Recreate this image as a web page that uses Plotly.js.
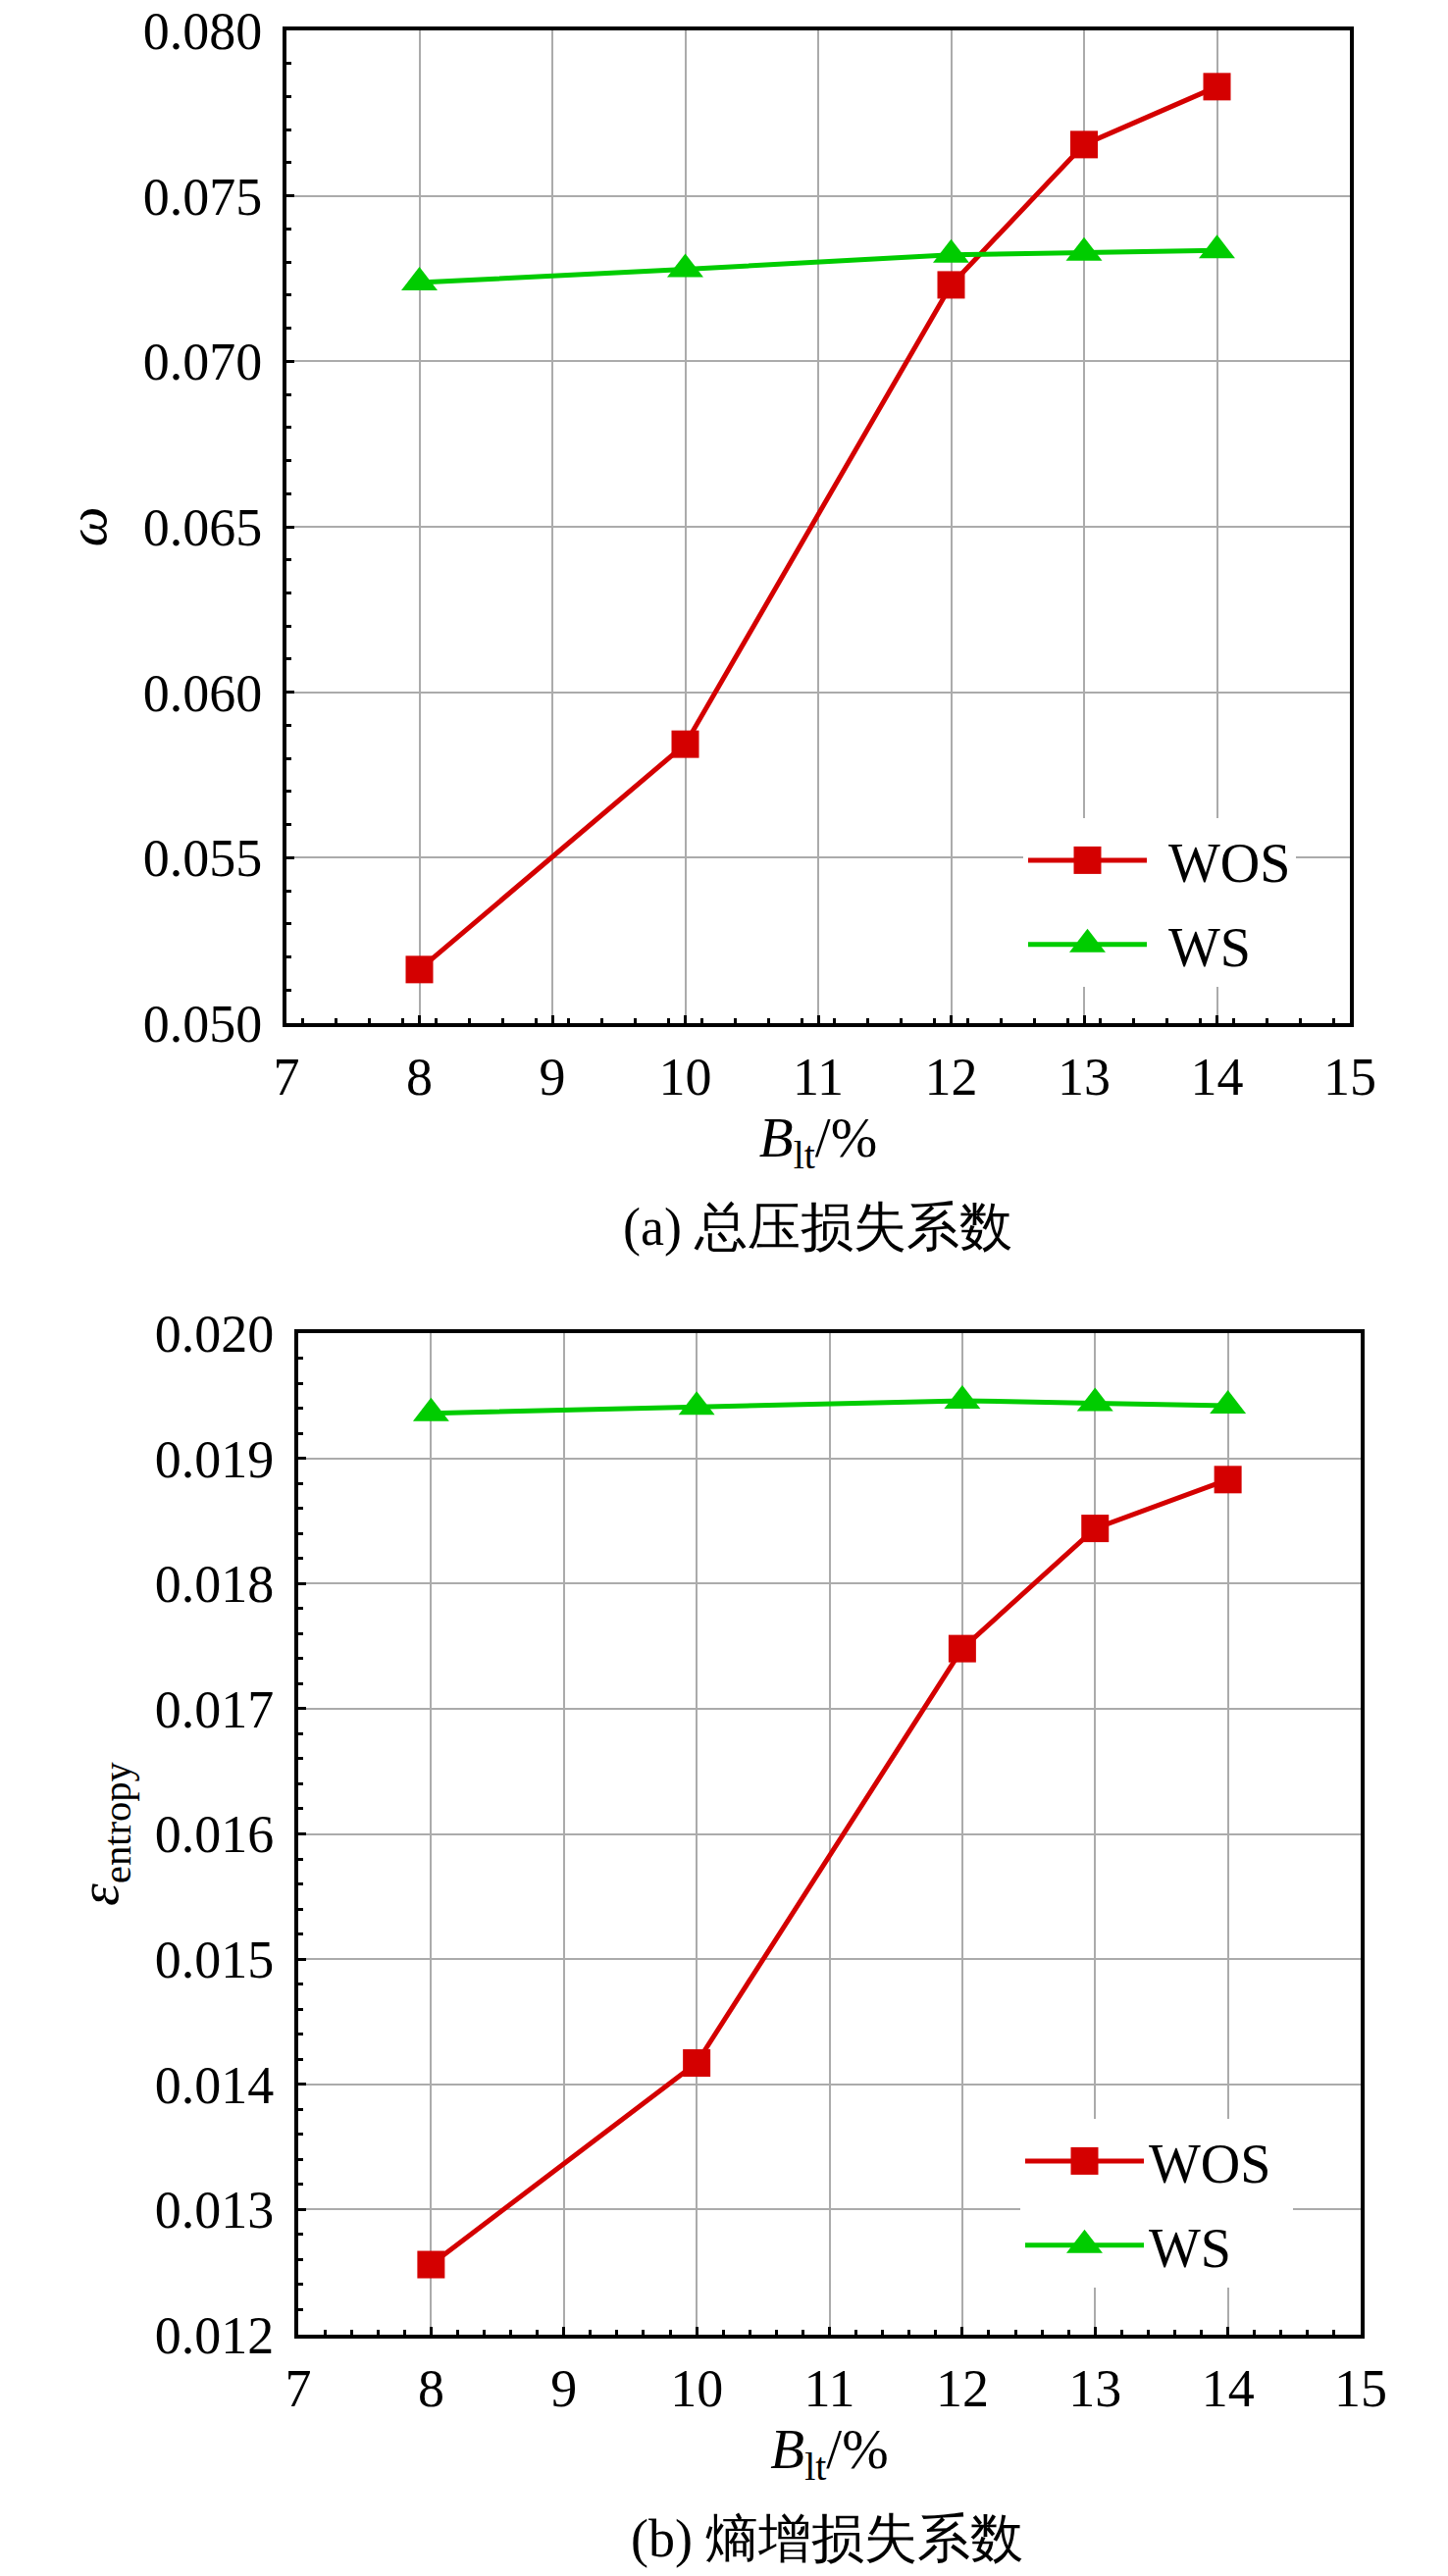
<!DOCTYPE html>
<html>
<head>
<meta charset="utf-8">
<script src="https://cdn.plot.ly/plotly-3.0.1.min.js"></script>
<style>
  html, body { margin: 0; padding: 0; background: #fff; }
  #chart { width: 1476px; height: 2626px; }
</style>
</head>
<body>
<div id="chart"></div>
<script>
/* ─── Loss coefficients vs B_lt ─── */

const blt = [8, 10, 12, 13, 14];

// (a) total pressure loss coefficient
const omegaWOS = [0.05162, 0.05843, 0.07231, 0.07655, 0.07830];
const omegaWS  = [0.07238, 0.07278, 0.07322, 0.07328, 0.07335];

// (b) entropy loss coefficient
const entropyWOS = [0.01256, 0.01417, 0.01748, 0.01844, 0.01883];
const entropyWS  = [0.01936, 0.01941, 0.01946, 0.01944, 0.01942];

const xTicks = [7, 8, 9, 10, 11, 12, 13, 14, 15];
const seriesNames = ['WOS', 'WS'];
const captions = ['(a) 总压损失系数', '(b) 熵增损失系数'];

const W = 1476, H = 2626;
const RED = '#d40000';
const GREEN = '#00cc00';
const SERIF = 'Liberation Serif';

// pixel positions -> paper fractions
const px = v => v / W;
const py = v => 1 - v / H;

function trace(y, name, xa, ya, legend) {
    const isWOS = name === 'WOS';
    return {
        x: blt,
        y: y,
        name: name,
        xaxis: xa,
        yaxis: ya,
        legend: legend,
        legendgroup: legend + name,
        type: 'scatter',
        mode: 'lines+markers',
        line: { color: isWOS ? RED : GREEN, width: 5 },
        marker: {
            symbol: isWOS ? 'square' : 'triangle-up',
            size: isWOS ? 28 : 32,
            color: isWOS ? RED : GREEN,
        },
    };
}

const data = [
    trace(omegaWOS, seriesNames[0], 'x', 'y', 'legend'),
    trace(omegaWS, seriesNames[1], 'x', 'y', 'legend'),
    trace(entropyWOS, seriesNames[0], 'x2', 'y2', 'legend2'),
    trace(entropyWS, seriesNames[1], 'x2', 'y2', 'legend2'),
];

const baseX = {
    range: [7, 15],
    tickvals: xTicks,
    ticktext: xTicks.map(String),
    ticks: 'inside',
    ticklen: 8,
    tickwidth: 3,
    tickcolor: '#000',
    showline: true,
    linewidth: 4,
    linecolor: '#000',
    mirror: true,
    showgrid: true,
    gridcolor: '#ababab',
    gridwidth: 2,
    zeroline: false,
    tickfont: { family: SERIF, size: 54, color: '#000' },
    ticklabelstandoff: 4,
    title: {
        text: '<i>B</i><sub>lt</sub>/%',
        font: { family: SERIF, size: 57, color: '#000' },
        standoff: 6,
    },
};

const baseY = {
    ticks: 'inside',
    ticklen: 8,
    tickwidth: 3,
    tickcolor: '#000',
    showline: true,
    linewidth: 4,
    linecolor: '#000',
    mirror: true,
    showgrid: true,
    gridcolor: '#ababab',
    gridwidth: 2,
    zeroline: false,
    tickformat: '.3f',
    tickfont: { family: SERIF, size: 54, color: '#000' },
    ticklabelstandoff: 10,
};

const baseLegend = {
    xanchor: 'left',
    yanchor: 'top',
    bgcolor: '#fff',
    borderwidth: 0,
    itemwidth: 121,
    traceorder: 'grouped',
    tracegroupgap: 10,
    font: { family: SERIF, size: 56, color: '#000' },
};

const layout = {
    width: W,
    height: H,
    margin: { l: 0, r: 0, t: 0, b: 0 },
    paper_bgcolor: '#fff',
    plot_bgcolor: '#fff',
    font: { family: SERIF, color: '#000' },
    showlegend: true,
    xaxis: {
        ...baseX,
        domain: [px(292), px(1376)],
        anchor: 'y',
        minor: { tick0: 7.125, dtick: 0.25, ticks: 'inside', ticklen: 5, tickwidth: 3, tickcolor: '#000', showgrid: false },
    },
    yaxis: {
        ...baseY,
        domain: [py(1043), py(31)],
        anchor: 'x',
        range: [0.050, 0.080],
        dtick: 0.005,
        tick0: 0.050,
        minor: { dtick: 0.001, ticks: 'inside', ticklen: 5, tickwidth: 3, tickcolor: '#000', showgrid: false },
        title: { text: '<i>ω</i>', font: { family: SERIF, size: 58, color: '#000' }, standoff: 19 },
    },
    xaxis2: {
        ...baseX,
        domain: [px(304), px(1387)],
        anchor: 'y2',
        minor: { tick0: 7, dtick: 0.2, ticks: 'inside', ticklen: 5, tickwidth: 3, tickcolor: '#000', showgrid: false },
    },
    yaxis2: {
        ...baseY,
        domain: [py(2380), py(1359)],
        anchor: 'x2',
        range: [0.012, 0.020],
        dtick: 0.001,
        tick0: 0.012,
        minor: { dtick: 0.0002, ticks: 'inside', ticklen: 5, tickwidth: 3, tickcolor: '#000', showgrid: false },
        title: { text: '<i>ε</i><sub>entropy</sub>', font: { family: SERIF, size: 58, color: '#000' }, standoff: 19 },
    },
    legend: { ...baseLegend, x: px(1043), y: py(834) },
    legend2: { ...baseLegend, x: px(1040), y: py(2160) },
    annotations: [
        {
            text: captions[0], xref: 'paper', yref: 'paper',
            x: px(833), y: py(1251), xanchor: 'center', yanchor: 'middle',
            showarrow: false, font: { family: SERIF, size: 54, color: '#000' },
        },
        {
            text: captions[1], xref: 'paper', yref: 'paper',
            x: px(843), y: py(2588), xanchor: 'center', yanchor: 'middle',
            showarrow: false, font: { family: SERIF, size: 54, color: '#000' },
        },
    ],
};

const LABEL_SHIFT = 17;

Plotly.newPlot('chart', data, layout, { staticPlot: true, displayModeBar: false }).then(gd => {
    gd.querySelectorAll('g.legend, g.legend2').forEach(lg => {
        // let the shifted labels show, and grow the white box with them
        lg.querySelectorAll('[clip-path]').forEach(e => e.removeAttribute('clip-path'));
        const bg = lg.querySelector('rect.bg');
        if (bg) bg.setAttribute('width', (parseFloat(bg.getAttribute('width')) || 0) + LABEL_SHIFT);

        lg.querySelectorAll('.traces').forEach(g => {
            // legend markers are capped at 16px by plotly; scale them up to the trace size
            const d = g.__data__;
            const tr = d && d[0] && d[0].trace;
            if (tr && tr.marker) {
                const k = tr.marker.size / 16;
                g.querySelectorAll('path.scatterpts').forEach(p => {
                    p.setAttribute('transform', (p.getAttribute('transform') || '') + ` scale(${k})`);
                });
            }
            g.querySelectorAll('text.legendtext').forEach(t => {
                t.setAttribute('x', (parseFloat(t.getAttribute('x')) || 0) + LABEL_SHIFT);
            });
        });
    });
});
</script>
</body>
</html>
